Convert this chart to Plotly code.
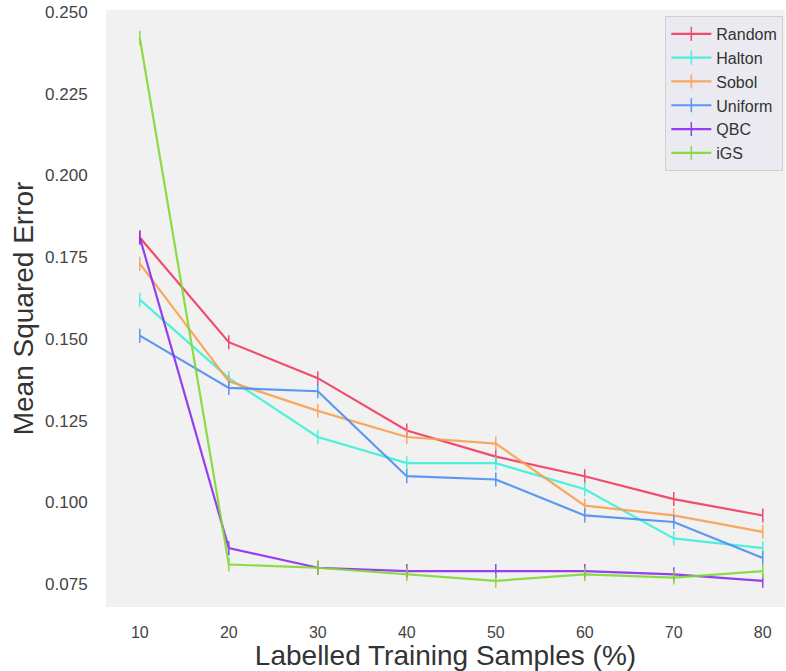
import plotly.graph_objects as go

x_vals = [10, 20, 30, 40, 50, 60, 70, 80]
random_mse = [0.181, 0.149, 0.138, 0.122, 0.114, 0.108, 0.101, 0.096]
halton_mse = [0.162, 0.138, 0.120, 0.112, 0.112, 0.104, 0.089, 0.086]
sobol_mse = [0.173, 0.137, 0.128, 0.120, 0.118, 0.099, 0.096, 0.091]
uniform_mse = [0.151, 0.135, 0.134, 0.108, 0.107, 0.096, 0.094, 0.083]
qbc_mse = [0.181, 0.086, 0.080, 0.079, 0.079, 0.079, 0.078, 0.076]
igs_mse = [0.242, 0.081, 0.080, 0.078, 0.076, 0.078, 0.077, 0.079]
y_ticks = [0.075, 0.100, 0.125, 0.150, 0.175, 0.200, 0.225, 0.250]

series = [
    ("Random", random_mse, "#f23a60"),
    ("Halton", halton_mse, "#3ef0d8"),
    ("Sobol", sobol_mse, "#f8a14f"),
    ("Uniform", uniform_mse, "#4a8ff2"),
    ("QBC", qbc_mse, "#8a2cf0"),
    ("iGS", igs_mse, "#7fd932"),
]

fig = go.Figure()
for name, vals, color in series:
    fig.add_trace(go.Scatter(
        x=x_vals, y=vals, name=name, mode="lines+markers",
        line=dict(color=color, width=2.2),
        marker=dict(symbol="line-ns-open", size=10, line=dict(color=color, width=1.5)),
        opacity=0.9,
    ))

fig.update_layout(
    width=786, height=671,
    margin=dict(l=106, r=1, t=10, b=64),
    paper_bgcolor="white",
    plot_bgcolor="#f1f1f1",
    font=dict(family="Liberation Sans, Arial, sans-serif", color="#444444"),
    xaxis=dict(
        range=[6.2, 82.5], tickvals=x_vals, ticktext=[str(v) for v in x_vals],
        showgrid=False, zeroline=False, showline=False,
        ticks="outside", ticklen=11, tickcolor="rgba(0,0,0,0)",
        tickfont=dict(size=16, color="#444444"),
        title=dict(text="Labelled Training Samples (%)", font=dict(size=28, color="#333333"), standoff=6),
    ),
    yaxis=dict(
        range=[0.068, 0.2506], tickvals=y_ticks,
        tickformat=".3f", ticklabeloverflow="allow",
        showgrid=False, zeroline=False, showline=False,
        ticks="outside", ticklen=14, tickcolor="rgba(0,0,0,0)",
        tickfont=dict(size=17, color="#444444"),
        title=dict(text="Mean Squared Error", font=dict(size=28, color="#333333"), standoff=3),
    ),
    legend=dict(
        x=0.9975, y=0.99, xanchor="right", yanchor="top",
        bgcolor="#eaeaf0", bordercolor="#d0d0d0", borderwidth=1,
        font=dict(size=16, color="#333333"),
        tracegroupgap=0, itemwidth=40,
    ),
)

fig.write_html("out.html", config={"displayModeBar": False},
               post_script="document.body.style.margin='0';")
